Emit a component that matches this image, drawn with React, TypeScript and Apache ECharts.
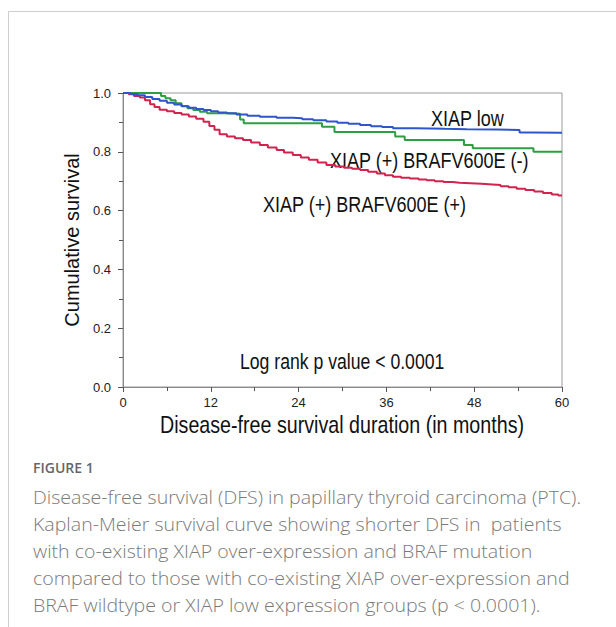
import React, { useEffect, useRef } from "react";
import * as echarts from "echarts";

const xTicks = [0, 12, 24, 36, 48, 60];
const yTicks = [0, 0.2, 0.4, 0.6, 0.8, 1.0];

// Kaplan-Meier step curves: [months, cumulative survival]
const xiapLow: [number, number][] = [
  [0, 1], [1, 0.997], [2, 0.992], [3, 0.986], [4, 0.98], [5, 0.974], [6, 0.967], [7, 0.961],
  [8, 0.955], [9, 0.95], [10, 0.946], [11, 0.942], [12, 0.938], [13, 0.934], [14.2, 0.931],
  [15.5, 0.927], [17, 0.923], [18.7, 0.919], [21, 0.916], [23.2, 0.914], [24.5, 0.911],
  [26, 0.907], [27.8, 0.903], [29.3, 0.899], [30.8, 0.895], [32.4, 0.891], [33.9, 0.887],
  [35.4, 0.884], [36.9, 0.88], [40, 0.878], [44, 0.877], [47, 0.876], [51, 0.874],
  [54.2, 0.866], [56, 0.865], [60, 0.864],
];

const xiapPosBrafNeg: [number, number][] = [
  [0, 1], [4.8, 1], [5.2, 0.99], [5.8, 0.982], [6.5, 0.975], [7.2, 0.965], [8, 0.956],
  [8.8, 0.948], [9.6, 0.942], [10.5, 0.936], [11.5, 0.931], [14, 0.929], [16, 0.91],
  [16.5, 0.897], [27, 0.897], [27.2, 0.885], [28.9, 0.867], [36.9, 0.867], [37.2, 0.852],
  [38.5, 0.84], [46.5, 0.84], [46.6, 0.823], [47.8, 0.812], [56, 0.812], [56.1, 0.8], [60, 0.8],
];

const xiapPosBrafPos: [number, number][] = [
  [0, 1], [0.8, 0.996], [1.5, 0.99], [2.3, 0.985], [3, 0.975], [3.7, 0.962], [4.3, 0.952],
  [5, 0.943], [6, 0.938], [7, 0.932], [8, 0.927], [9, 0.92], [10, 0.912], [11, 0.902],
  [11.8, 0.888], [12.5, 0.875], [13.2, 0.86], [14.2, 0.852], [15.3, 0.846], [16.4, 0.84],
  [17.5, 0.832], [18.7, 0.823], [19.8, 0.815], [21, 0.806], [22, 0.798], [23.2, 0.789],
  [24.3, 0.781], [25.4, 0.773], [26.6, 0.764], [27.8, 0.755], [29, 0.75], [30.2, 0.746],
  [31.3, 0.742], [32.4, 0.738], [33.5, 0.732], [34.7, 0.726], [35.8, 0.72], [36.9, 0.715],
  [38, 0.712], [39.2, 0.709], [40.4, 0.706], [41.5, 0.703], [42.6, 0.7], [43.8, 0.697],
  [45, 0.695], [46, 0.693], [47.5, 0.691], [49, 0.689], [50.5, 0.687], [51.6, 0.683],
  [52.7, 0.679], [53.8, 0.674], [55, 0.67], [56.2, 0.665], [57.4, 0.66], [58.6, 0.655],
  [59.5, 0.651], [60, 0.65],
];

const seriesNames = ["XIAP low", "XIAP (+) BRAFV600E (-)", "XIAP (+) BRAFV600E (+)"];
const seriesColors = ["#2f55cc", "#2e9e44", "#d2234f"];

const xAxisTitle = "Disease-free survival duration (in months)";
const yAxisTitle = "Cumulative survival";
const pValueText = "Log rank p value < 0.0001";

const captionTitle = "FIGURE 1";
const captionLines = [
  "Disease-free survival (DFS) in papillary thyroid carcinoma (PTC).",
  "Kaplan-Meier survival curve showing shorter DFS in  patients",
  "with co-existing XIAP over-expression and BRAF mutation",
  "compared to those with co-existing XIAP over-expression and",
  "BRAF wildtype or XIAP low expression groups (p < 0.0001).",
];

const SANS = "'Liberation Sans', Arial, sans-serif";
const CAP = "'Open Sans', 'Noto Sans', sans-serif";

export default function App() {
  const ref = useRef<HTMLDivElement>(null);
  useEffect(() => {
    if (!ref.current) return;
    const chart = echarts.init(ref.current, undefined, { renderer: "svg" });
    const datasets = [xiapLow, xiapPosBrafNeg, xiapPosBrafPos];
    const narrowText = (
      text: string,
      x: number,
      y: number,
      size: number,
      align: "left" | "center" = "left"
    ) => ({
      type: "text",
      x,
      y,
      scaleX: 0.82,
      style: {
        text,
        fill: "#111",
        font: `${size}px ${SANS}`,
        align,
        verticalAlign: "middle",
      },
    });
    chart.setOption({
      animation: false,
      backgroundColor: "#ffffff",
      grid: {
        left: 123,
        top: 93,
        width: 439,
        height: 294,
        show: true,
        borderColor: "#9a9a9a",
        borderWidth: 1,
        backgroundColor: "transparent",
      },
      xAxis: {
        type: "value",
        min: 0,
        max: 60,
        interval: 12,
        axisLine: { show: true, lineStyle: { color: "#8a8a8a", width: 1 } },
        axisTick: { show: true, inside: false, length: 5, lineStyle: { color: "#555" } },
        minorTick: { show: true, splitNumber: 2, length: 4, lineStyle: { color: "#555" } },
        splitLine: { show: false },
        axisLabel: {
          margin: 9,
          fontFamily: SANS,
          fontSize: 13,
          color: "#222",
          customValues: xTicks,
        },
      },
      yAxis: {
        type: "value",
        min: 0,
        max: 1,
        interval: 0.2,
        name: yAxisTitle,
        nameLocation: "middle",
        nameGap: 41,
        nameRotate: 90,
        nameTextStyle: { fontFamily: SANS, fontSize: 20, color: "#111" },
        axisLine: { show: true, lineStyle: { color: "#8a8a8a", width: 1 } },
        axisTick: { show: true, inside: false, length: 5, lineStyle: { color: "#555" } },
        minorTick: { show: true, splitNumber: 2, length: 4, lineStyle: { color: "#555" } },
        splitLine: { show: false },
        axisLabel: {
          margin: 12,
          fontFamily: SANS,
          fontSize: 13,
          color: "#222",
          formatter: (v: number) => v.toFixed(1),
          customValues: yTicks,
        },
      },
      series: datasets.map((d, i) => ({
        name: seriesNames[i],
        type: "line",
        step: "end",
        data: d,
        symbol: "none",
        lineStyle: { color: seriesColors[i], width: 2 },
        z: 3 - i,
      })),
      graphic: [
        { type: "line", shape: { x1: 8, y1: 11.5, x2: 616, y2: 11.5 }, style: { stroke: "#cfcfcf", lineWidth: 1 } },
        { type: "line", shape: { x1: 8.5, y1: 11, x2: 8.5, y2: 627 }, style: { stroke: "#cfcfcf", lineWidth: 1 } },
        narrowText(seriesNames[0], 431, 118, 22),
        narrowText(seriesNames[1], 330, 160, 22),
        narrowText(seriesNames[2], 263, 204, 22),
        narrowText(pValueText, 240, 361, 21.5),
        narrowText(xAxisTitle, 342, 425, 24, "center"),
        {
          type: "text",
          x: 33,
          y: 467,
          style: {
            text: captionTitle,
            fill: "#666",
            font: `600 14px ${CAP}`,
            verticalAlign: "middle",
          },
        },
        ...captionLines.map((t, i) => ({
          type: "text",
          x: 33,
          y: 497 + i * 26.8,
          scaleX: 1.03,
          style: {
            text: t,
            fill: "#7a7a7a",
            font: `300 19px ${CAP}`,
            verticalAlign: "middle",
          },
        })),
      ],
    });
    return () => chart.dispose();
  }, []);
  return (
    <div
      ref={ref}
      style={{ position: "absolute", left: 0, top: 0, width: 616, height: 627 }}
    />
  );
}
